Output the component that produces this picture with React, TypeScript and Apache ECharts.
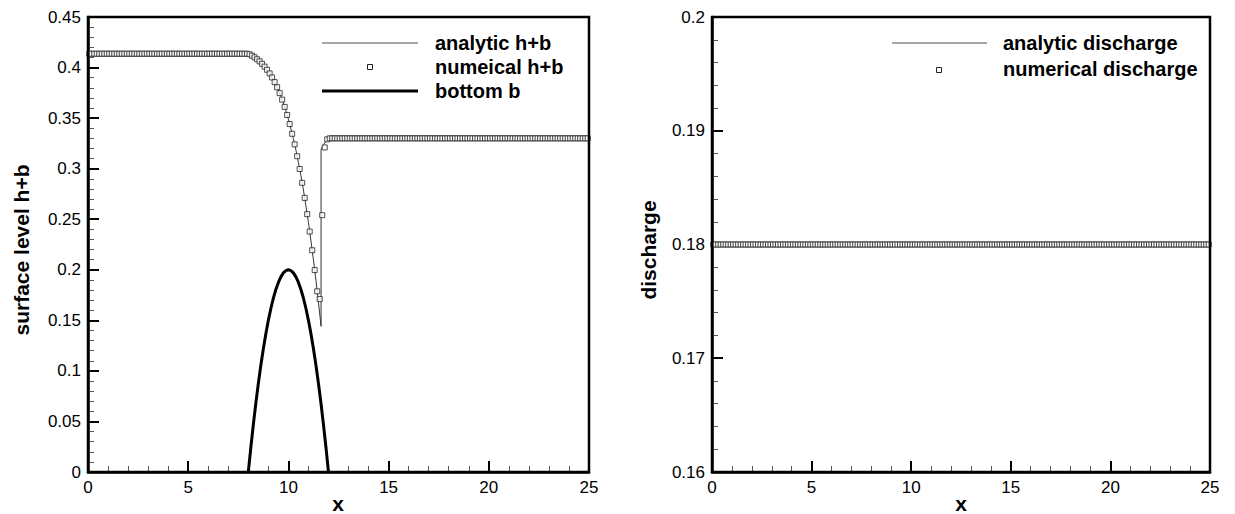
import React, { useEffect, useRef } from "react";
import * as echarts from "echarts";

// ---- data ----
const CELL = 0.125; // numerical cell size (x grid of the squares)
const CELL_COUNT = 200;

// analytic free surface h+b
const anX = [0, 8, 8.125, 8.25, 8.375, 8.5, 8.625, 8.75, 8.875, 9, 9.125, 9.25, 9.375, 9.5, 9.625, 9.75, 9.875, 10, 10.125, 10.25, 10.375, 10.5, 10.625, 10.75, 10.875, 11, 11.125, 11.25, 11.375, 11.5, 11.625, 11.63, 11.63, 11.75, 11.875, 12, 25];
const anY = [0.4137, 0.4137, 0.4124, 0.4109, 0.4092, 0.4072, 0.4049, 0.4024, 0.3994, 0.3961, 0.3923, 0.388, 0.3832, 0.3777, 0.3717, 0.3649, 0.3572, 0.3489, 0.3393, 0.3296, 0.3184, 0.3062, 0.2931, 0.2788, 0.2633, 0.2467, 0.2288, 0.2098, 0.1895, 0.1679, 0.145, 0.1441, 0.3192, 0.3236, 0.3271, 0.33, 0.33];

// numerical h+b at cell centres
const numHB = [
  0.4137, 0.4137, 0.4137, 0.4137, 0.4137, 0.4137, 0.4137, 0.4137, 0.4137, 0.4137, 0.4137, 0.4137, 0.4137, 0.4137, 0.4137, 0.4137,
  0.4137, 0.4137, 0.4137, 0.4137, 0.4137, 0.4137, 0.4137, 0.4137, 0.4137, 0.4137, 0.4137, 0.4137, 0.4137, 0.4137, 0.4137, 0.4137,
  0.4137, 0.4137, 0.4137, 0.4137, 0.4137, 0.4137, 0.4137, 0.4137, 0.4137, 0.4137, 0.4137, 0.4137, 0.4137, 0.4137, 0.4137, 0.4137,
  0.4137, 0.4137, 0.4137, 0.4137, 0.4137, 0.4137, 0.4137, 0.4137, 0.4137, 0.4137, 0.4137, 0.4137, 0.4137, 0.4137, 0.4137, 0.4137,
  0.4131, 0.4117, 0.4101, 0.4082, 0.4061, 0.4037, 0.4009, 0.3978, 0.3942, 0.3902, 0.3856, 0.3805, 0.3747, 0.3683, 0.3611, 0.3531,
  0.3441, 0.3345, 0.324, 0.3123, 0.2997, 0.286, 0.2711, 0.255, 0.2378, 0.2193, 0.1997, 0.1787, 0.171, 0.254, 0.321, 0.329,
  0.33, 0.33, 0.33, 0.33, 0.33, 0.33, 0.33, 0.33, 0.33, 0.33, 0.33, 0.33, 0.33, 0.33, 0.33, 0.33,
  0.33, 0.33, 0.33, 0.33, 0.33, 0.33, 0.33, 0.33, 0.33, 0.33, 0.33, 0.33, 0.33, 0.33, 0.33, 0.33,
  0.33, 0.33, 0.33, 0.33, 0.33, 0.33, 0.33, 0.33, 0.33, 0.33, 0.33, 0.33, 0.33, 0.33, 0.33, 0.33,
  0.33, 0.33, 0.33, 0.33, 0.33, 0.33, 0.33, 0.33, 0.33, 0.33, 0.33, 0.33, 0.33, 0.33, 0.33, 0.33,
  0.33, 0.33, 0.33, 0.33, 0.33, 0.33, 0.33, 0.33, 0.33, 0.33, 0.33, 0.33, 0.33, 0.33, 0.33, 0.33,
  0.33, 0.33, 0.33, 0.33, 0.33, 0.33, 0.33, 0.33, 0.33, 0.33, 0.33, 0.33, 0.33, 0.33, 0.33, 0.33,
  0.33, 0.33, 0.33, 0.33, 0.33, 0.33, 0.33, 0.33,
];

// bottom b (the bump; zero elsewhere, on the axis)
const bX = [8, 8.125, 8.25, 8.375, 8.5, 8.625, 8.75, 8.875, 9, 9.125, 9.25, 9.375, 9.5, 9.625, 9.75, 9.875, 10, 10.125, 10.25, 10.375, 10.5, 10.625, 10.75, 10.875, 11, 11.125, 11.25, 11.375, 11.5, 11.625, 11.75, 11.875, 12];
const bY = [0, 0.0242, 0.0469, 0.068, 0.0875, 0.1055, 0.1219, 0.1367, 0.15, 0.1617, 0.1719, 0.1805, 0.1875, 0.193, 0.1969, 0.1992, 0.2, 0.1992, 0.1969, 0.193, 0.1875, 0.1805, 0.1719, 0.1617, 0.15, 0.1367, 0.1219, 0.1055, 0.0875, 0.068, 0.0469, 0.0242, 0];

// discharge
const qAnX = [0, 25];
const qAnY = [0.18, 0.18];
const numQ = [
  0.18, 0.18, 0.18, 0.18, 0.18, 0.18, 0.18, 0.18, 0.18, 0.18, 0.18, 0.18, 0.18, 0.18, 0.18, 0.18, 0.18, 0.18, 0.18, 0.18,
  0.18, 0.18, 0.18, 0.18, 0.18, 0.18, 0.18, 0.18, 0.18, 0.18, 0.18, 0.18, 0.18, 0.18, 0.18, 0.18, 0.18, 0.18, 0.18, 0.18,
  0.18, 0.18, 0.18, 0.18, 0.18, 0.18, 0.18, 0.18, 0.18, 0.18, 0.18, 0.18, 0.18, 0.18, 0.18, 0.18, 0.18, 0.18, 0.18, 0.18,
  0.18, 0.18, 0.18, 0.18, 0.18, 0.18, 0.18, 0.18, 0.18, 0.18, 0.18, 0.18, 0.18, 0.18, 0.18, 0.18, 0.18, 0.18, 0.18, 0.18,
  0.18, 0.18, 0.18, 0.18, 0.18, 0.18, 0.18, 0.18, 0.18, 0.18, 0.18, 0.18, 0.18, 0.18, 0.18, 0.18, 0.18, 0.18, 0.18, 0.18,
  0.18, 0.18, 0.18, 0.18, 0.18, 0.18, 0.18, 0.18, 0.18, 0.18, 0.18, 0.18, 0.18, 0.18, 0.18, 0.18, 0.18, 0.18, 0.18, 0.18,
  0.18, 0.18, 0.18, 0.18, 0.18, 0.18, 0.18, 0.18, 0.18, 0.18, 0.18, 0.18, 0.18, 0.18, 0.18, 0.18, 0.18, 0.18, 0.18, 0.18,
  0.18, 0.18, 0.18, 0.18, 0.18, 0.18, 0.18, 0.18, 0.18, 0.18, 0.18, 0.18, 0.18, 0.18, 0.18, 0.18, 0.18, 0.18, 0.18, 0.18,
  0.18, 0.18, 0.18, 0.18, 0.18, 0.18, 0.18, 0.18, 0.18, 0.18, 0.18, 0.18, 0.18, 0.18, 0.18, 0.18, 0.18, 0.18, 0.18, 0.18,
  0.18, 0.18, 0.18, 0.18, 0.18, 0.18, 0.18, 0.18, 0.18, 0.18, 0.18, 0.18, 0.18, 0.18, 0.18, 0.18, 0.18, 0.18, 0.18, 0.18,
];

const legendLeft = ["analytic h+b", "numeical h+b", "bottom b"];
const legendRight = ["analytic discharge", "numerical discharge"];
const yTitleLeft = "surface level h+b";
const yTitleRight = "discharge";
const xTitle = "x";

const FONT = '"Liberation Sans", Arial, Helvetica, sans-serif';

const cellX = Array.from({ length: CELL_COUNT }, (_, i) => CELL / 2 + i * CELL);
const zip = (xs: number[], ys: number[]) => xs.map((x, i) => [x, ys[i]]);

const GRIDS = [
  { left: 88, top: 17, width: 501, height: 455 },
  { left: 712, top: 17, width: 498, height: 455 },
];

function xAxisCfg(gridIndex: number) {
  return {
    type: "value",
    gridIndex,
    min: 0,
    max: 25,
    interval: 5,
    axisLine: { show: true, onZero: false, lineStyle: { color: "#000", width: 2.5 } },
    axisTick: { show: true, inside: true, length: 11, lineStyle: { color: "#000", width: 2 } },
    minorTick: { show: true, splitNumber: 5, length: 6, lineStyle: { color: "#555", width: 1 } },
    splitLine: { show: false },
    axisLabel: { color: "#000", fontSize: 17, fontFamily: FONT, margin: 7 },
  };
}

function yAxisCfg(gridIndex: number, min: number, max: number, interval: number) {
  return {
    type: "value",
    gridIndex,
    min,
    max,
    interval,
    axisLine: { show: true, onZero: false, lineStyle: { color: "#000", width: 2.5 } },
    axisTick: { show: true, inside: true, length: 11, lineStyle: { color: "#000", width: 2 } },
    minorTick: { show: true, splitNumber: 5, length: 6, lineStyle: { color: "#555", width: 1 } },
    splitLine: { show: false },
    axisLabel: { color: "#000", fontSize: 17, fontFamily: FONT, margin: 7 },
  };
}

const legendText = (text: string, x: number, y: number) => ({
  type: "text",
  x,
  y,
  z: 100,
  style: {
    text,
    fill: "#000",
    fontSize: 20,
    fontWeight: "bold",
    fontFamily: FONT,
    align: "left",
    verticalAlign: "middle",
    textAlign: "left",
    textVerticalAlign: "middle",
  },
});

const titleText = (text: string, x: number, y: number, rotate: boolean) => ({
  type: "text",
  x,
  y,
  rotation: rotate ? Math.PI / 2 : 0,
  style: {
    text,
    fill: "#000",
    fontSize: 21,
    fontWeight: "bold",
    fontFamily: FONT,
    align: "center",
    verticalAlign: "middle",
    textAlign: "center",
    textVerticalAlign: "middle",
  },
});

const frame = (g: { left: number; top: number; width: number; height: number }) => ({
  type: "rect",
  z: 200,
  silent: true,
  shape: { x: g.left, y: g.top, width: g.width, height: g.height },
  style: { fill: "none", stroke: "#000", lineWidth: 2.5 },
});

export default function App() {
  const ref = useRef<HTMLDivElement>(null);

  useEffect(() => {
    if (!ref.current) return;
    const chart = echarts.init(ref.current, undefined, { renderer: "svg" });
    const squareStyle = { color: "#fff", borderColor: "#222", borderWidth: 1 };
    chart.setOption({
      animation: false,
      backgroundColor: "#fff",
      grid: GRIDS.map((g) => ({ ...g, show: false })),
      xAxis: [xAxisCfg(0), xAxisCfg(1)],
      yAxis: [yAxisCfg(0, 0, 0.45, 0.05), yAxisCfg(1, 0.16, 0.2, 0.01)],
      series: [
        {
          name: legendLeft[2],
          type: "line",
          xAxisIndex: 0,
          yAxisIndex: 0,
          data: zip(bX, bY),
          showSymbol: false,
          symbol: "none",
          lineStyle: { color: "#000", width: 3 },
          z: 3,
        },
        {
          name: legendLeft[0],
          type: "line",
          xAxisIndex: 0,
          yAxisIndex: 0,
          data: zip(anX, anY),
          showSymbol: false,
          symbol: "none",
          lineStyle: { color: "#333", width: 1 },
          z: 4,
        },
        {
          name: legendLeft[1],
          type: "scatter",
          xAxisIndex: 0,
          yAxisIndex: 0,
          data: zip(cellX, numHB),
          symbol: "rect",
          symbolSize: 5,
          itemStyle: squareStyle,
          z: 5,
        },
        {
          name: legendRight[0],
          type: "line",
          xAxisIndex: 1,
          yAxisIndex: 1,
          data: zip(qAnX, qAnY),
          showSymbol: false,
          symbol: "none",
          lineStyle: { color: "#333", width: 1 },
          z: 4,
        },
        {
          name: legendRight[1],
          type: "scatter",
          xAxisIndex: 1,
          yAxisIndex: 1,
          data: zip(cellX, numQ),
          symbol: "rect",
          symbolSize: 5,
          itemStyle: squareStyle,
          z: 5,
        },
      ],
      graphic: [
        frame(GRIDS[0]),
        frame(GRIDS[1]),
        // left legend
        { type: "line", shape: { x1: 322, y1: 43, x2: 418, y2: 43 }, style: { stroke: "#888", lineWidth: 1.5 } },
        legendText(legendLeft[0], 435, 43),
        { type: "rect", shape: { x: 367.5, y: 64.5, width: 5, height: 5 }, style: { fill: "#fff", stroke: "#222", lineWidth: 1 } },
        legendText(legendLeft[1], 435, 67),
        { type: "line", shape: { x1: 322, y1: 91, x2: 418, y2: 91 }, style: { stroke: "#000", lineWidth: 3 } },
        legendText(legendLeft[2], 435, 91),
        // right legend
        { type: "line", shape: { x1: 892, y1: 43, x2: 987, y2: 43 }, style: { stroke: "#888", lineWidth: 1.5 } },
        legendText(legendRight[0], 1003, 43),
        { type: "rect", shape: { x: 936.5, y: 67.5, width: 5, height: 5 }, style: { fill: "#fff", stroke: "#222", lineWidth: 1 } },
        legendText(legendRight[1], 1003, 69),
        // axis titles
        titleText(yTitleLeft, 21, 250, true),
        titleText(yTitleRight, 648, 250, true),
        titleText(xTitle, 338, 503, false),
        titleText(xTitle, 961, 503, false),
      ],
    });
    return () => chart.dispose();
  }, []);

  return (
    <div
      ref={ref}
      style={{ position: "fixed", left: 0, top: 0, width: 1235, height: 514, background: "#fff" }}
    />
  );
}
